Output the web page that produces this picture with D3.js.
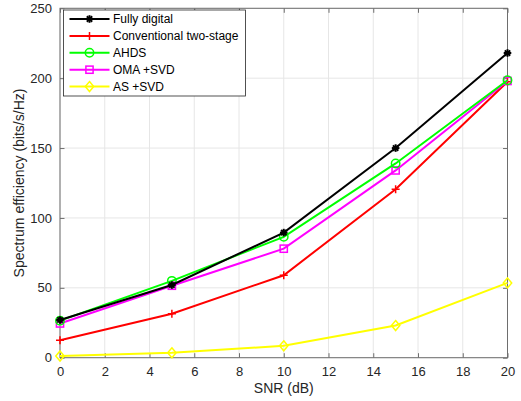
<!DOCTYPE html>
<html>
<head>
<meta charset="utf-8">
<script src="https://cdn.jsdelivr.net/npm/d3@7"></script>
<style>
  body { margin: 0; background: #fff; }
  svg { font-family: "Liberation Sans", Arial, sans-serif; }
</style>
</head>
<body>
<div id="chart"></div>
<script>
// data
var snr = [0, 5, 10, 15, 20];
var fullyDigital = [27, 52, 89.5, 150, 218];
var conventional = [12.5, 31.5, 59, 120.5, 197.5];
var ahds = [26.5, 55, 86.5, 139, 198.5];
var omaSvd = [24.5, 51.5, 78, 134, 198];
var asSvd = [1.2, 3.5, 8.5, 23, 53.5];
var xTicks = [0, 2, 4, 6, 8, 10, 12, 14, 16, 18, 20];
var yTicks = [0, 50, 100, 150, 200, 250];

var series = [
  { name: "Fully digital", values: fullyDigital, color: "#000000", marker: "star" },
  { name: "Conventional two-stage", values: conventional, color: "#ff0000", marker: "plus" },
  { name: "AHDS", values: ahds, color: "#00ff00", marker: "circle" },
  { name: "OMA +SVD", values: omaSvd, color: "#ff00ff", marker: "square" },
  { name: "AS +SVD", values: asSvd, color: "#ffff00", marker: "diamond" }
];

var W = 521, H = 401;
var m = { left: 60, right: 13.5, top: 8.3, bottom: 43.3 };
var iw = W - m.left - m.right, ih = H - m.top - m.bottom;

var svg = d3.select("#chart").append("svg").attr("width", W).attr("height", H);
var g = svg.append("g").attr("transform", "translate(" + m.left + "," + m.top + ")");

var x = d3.scaleLinear().domain([0, 20]).range([0, iw]);
var y = d3.scaleLinear().domain([0, 250]).range([ih, 0]);

// grid
g.append("g").selectAll("line").data(xTicks).enter().append("line")
  .attr("x1", function (d) { return x(d); }).attr("x2", function (d) { return x(d); })
  .attr("y1", 0).attr("y2", ih).attr("stroke", "#e6e6e6").attr("stroke-width", 1);
g.append("g").selectAll("line").data(yTicks).enter().append("line")
  .attr("y1", function (d) { return y(d); }).attr("y2", function (d) { return y(d); })
  .attr("x1", 0).attr("x2", iw).attr("stroke", "#e6e6e6").attr("stroke-width", 1);

// axes (inner ticks, box)
var axisColor = "#6e6e6e";
function styleAxis(sel) {
  sel.select(".domain").remove();
  sel.selectAll(".tick line").attr("stroke", axisColor);
  sel.selectAll(".tick text").attr("fill", "#262626").style("font-size", "13px");
}
g.append("g").attr("transform", "translate(0," + ih + ")")
  .call(d3.axisBottom(x).tickValues(xTicks).tickSizeInner(-4.5).tickSizeOuter(0).tickPadding(9))
  .call(styleAxis);
g.append("g")
  .call(d3.axisTop(x).tickValues(xTicks).tickSizeInner(-4.5).tickSizeOuter(0).tickFormat(""))
  .call(styleAxis);
g.append("g")
  .call(d3.axisLeft(y).tickValues(yTicks).tickSizeInner(-4.5).tickSizeOuter(0).tickPadding(8))
  .call(styleAxis);
g.append("g").attr("transform", "translate(" + iw + ",0)")
  .call(d3.axisRight(y).tickValues(yTicks).tickSizeInner(-4.5).tickSizeOuter(0).tickFormat(""))
  .call(styleAxis);
g.append("rect").attr("width", iw).attr("height", ih)
  .attr("fill", "none").attr("stroke", axisColor).attr("stroke-width", 1);

// markers
function drawMarker(sel, type, color, cx, cy) {
  var sw = 1.5;
  if (type === "star") {
    var r = 3.8;
    [0, 45, 90, 135].forEach(function (a) {
      var rad = a * Math.PI / 180;
      sel.append("line")
        .attr("x1", cx - r * Math.cos(rad)).attr("y1", cy - r * Math.sin(rad))
        .attr("x2", cx + r * Math.cos(rad)).attr("y2", cy + r * Math.sin(rad))
        .attr("stroke", color).attr("stroke-width", 2);
    });
    sel.append("circle").attr("cx", cx).attr("cy", cy).attr("r", 2).attr("fill", color);
  } else if (type === "plus") {
    sel.append("path").attr("d", "M" + (cx - 4) + "," + cy + "H" + (cx + 4) + "M" + cx + "," + (cy - 4) + "V" + (cy + 4))
      .attr("stroke", color).attr("stroke-width", sw).attr("fill", "none");
  } else if (type === "circle") {
    sel.append("circle").attr("cx", cx).attr("cy", cy).attr("r", 4.2)
      .attr("fill", "none").attr("stroke", color).attr("stroke-width", sw);
  } else if (type === "square") {
    sel.append("rect").attr("x", cx - 3.6).attr("y", cy - 3.6).attr("width", 7.2).attr("height", 7.2)
      .attr("fill", "none").attr("stroke", color).attr("stroke-width", sw);
  } else if (type === "diamond") {
    sel.append("path").attr("d", "M" + cx + "," + (cy - 5) + "L" + (cx + 4.2) + "," + cy + "L" + cx + "," + (cy + 5) + "L" + (cx - 4.2) + "," + cy + "Z")
      .attr("fill", "none").attr("stroke", color).attr("stroke-width", sw);
  }
}

var line = d3.line().x(function (d, i) { return x(snr[i]); }).y(function (d) { return y(d); });

var drawOrder = [4, 1, 3, 2, 0];
drawOrder.forEach(function (k) {
  var s = series[k];
  var sg = g.append("g");
  sg.append("path").datum(s.values).attr("d", line)
    .attr("fill", "none").attr("stroke", s.color).attr("stroke-width", 2);
  s.values.forEach(function (v, i) {
    drawMarker(sg, s.marker, s.color, x(snr[i]), y(v));
  });
});

// legend
var lg = svg.append("g").attr("transform", "translate(63.5,10)");
lg.append("rect").attr("width", 182).attr("height", 86)
  .attr("fill", "#fff").attr("stroke", "#262626").attr("stroke-width", 0.8);
series.forEach(function (s, i) {
  var yy = 9 + i * 16.9;
  lg.append("line").attr("x1", 6).attr("x2", 46).attr("y1", yy).attr("y2", yy)
    .attr("stroke", s.color).attr("stroke-width", 2);
  drawMarker(lg, s.marker, s.color, 26, yy);
  lg.append("text").attr("x", 49.5).attr("y", yy).attr("dy", "0.35em")
    .style("font-size", "12px").attr("fill", "#000").text(s.name);
});

// axis labels
svg.append("text").attr("x", m.left + iw / 2).attr("y", 393)
  .attr("text-anchor", "middle").style("font-size", "14px").attr("fill", "#262626").text("SNR (dB)");
svg.append("text").attr("transform", "translate(24," + (m.top + ih / 2) + ") rotate(-90)")
  .attr("text-anchor", "middle").style("font-size", "14px").attr("fill", "#262626")
  .text("Spectrum efficiency (bits/s/Hz)");
</script>
</body>
</html>
